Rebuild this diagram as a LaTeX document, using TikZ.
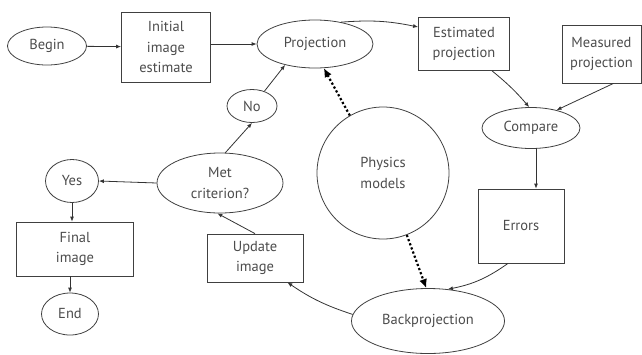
\documentclass[tikz,border=0pt]{standalone}
\usepackage{fontspec}
\setmainfont{PT Sans}
\usetikzlibrary{shapes.geometric,arrows.meta}
\begin{document}
\begin{tikzpicture}[x=1pt,y=-1pt,
  every node/.style={font=\fontsize{14.5}{20.5}\selectfont, text=black!70, align=center, inner sep=0pt},
  ell/.style={draw=black!75, line width=0.8pt, ellipse},
  box/.style={draw=black!75, line width=0.8pt, rectangle},
  conn/.style={draw=black!80, line width=0.8pt, -{Latex[length=5pt,width=4pt]}},
  dotarr/.style={draw=black, line width=2.2pt, dash pattern=on 2.2pt off 2.2pt, -{Latex[length=9pt,width=8pt]}}]
\useasboundingbox (0,0) rectangle (642,354);
\node[ell, minimum width=79pt, minimum height=38pt] (begin) at (47,46) {Begin};
\node[box, minimum width=89pt, minimum height=70pt] (init) at (166,47) {Initial\\image\\estimate};
\node[ell, minimum width=116pt, minimum height=48pt] (proj) at (315,44) {Projection};
\node[box, minimum width=91pt, minimum height=53pt] (est) at (464,44) {Estimated\\projection};
\node[box, minimum width=79pt, minimum height=58pt] (meas) at (601.5,54) {Measured\\projection};
\node[ell, minimum width=98pt, minimum height=41pt] (comp) at (531,128) {Compare};
\node[box, minimum width=86pt, minimum height=74pt] (err) at (521,226) {Errors};
\node[ell, minimum width=153pt, minimum height=65pt] (back) at (428,321) {Backprojection};
\node[circle, draw=black!75, line width=0.8pt, minimum size=132pt] (phys) at (383,173) {Physics\\models};
\node[ell, minimum width=50pt, minimum height=33pt] (no) at (252,106) {No};
\node[ell, minimum width=126pt, minimum height=60pt] (met) at (220,183) {Met\\criterion?};
\node[ell, minimum width=53pt, minimum height=43pt] (yes) at (72,181) {Yes};
\node[box, minimum width=117pt, minimum height=54pt] (final) at (75,249) {Final\\image};
\node[ell, minimum width=57pt, minimum height=42pt] (end) at (70,314) {End};
\node[box, minimum width=96pt, minimum height=48pt] (upd) at (255,258) {Update\\image};

\draw[conn] (begin) -- (init);
\draw[conn] (init.east |- proj.west) -- (proj.west);
\draw[conn] (proj.40) to[bend left=8] (est.west |- 0,27);
\draw[conn] (est.south west) ++(74,0) to[bend left=5] (comp.95);
\draw[conn] (meas.south) ++(12,0) -- (comp.35);
\draw[conn] (comp.south |- 0,148) ++(5,0) -- (err.north -| 536,0);
\draw[conn] (err.south) ++(-13,0) to[bend left=12] (back.58);
\draw[conn] (back.175) to[bend left=8] ([xshift=-16pt]upd.south east);
\draw[conn] (upd.north) -- (met.265);
\draw[conn] (met.west) -- (yes.east);
\draw[conn] (met.80) -- (no.south);
\draw[conn] (no.50) -- (proj.215);
\draw[conn] (yes.south) -- (final.north -| yes.south);
\draw[conn] (final.south -| end.north) -- (end.north);
\draw[dotarr] (phys.120) -- (proj.290);
\draw[dotarr] (phys.291) -- (back.93);
\end{tikzpicture}
\end{document}
